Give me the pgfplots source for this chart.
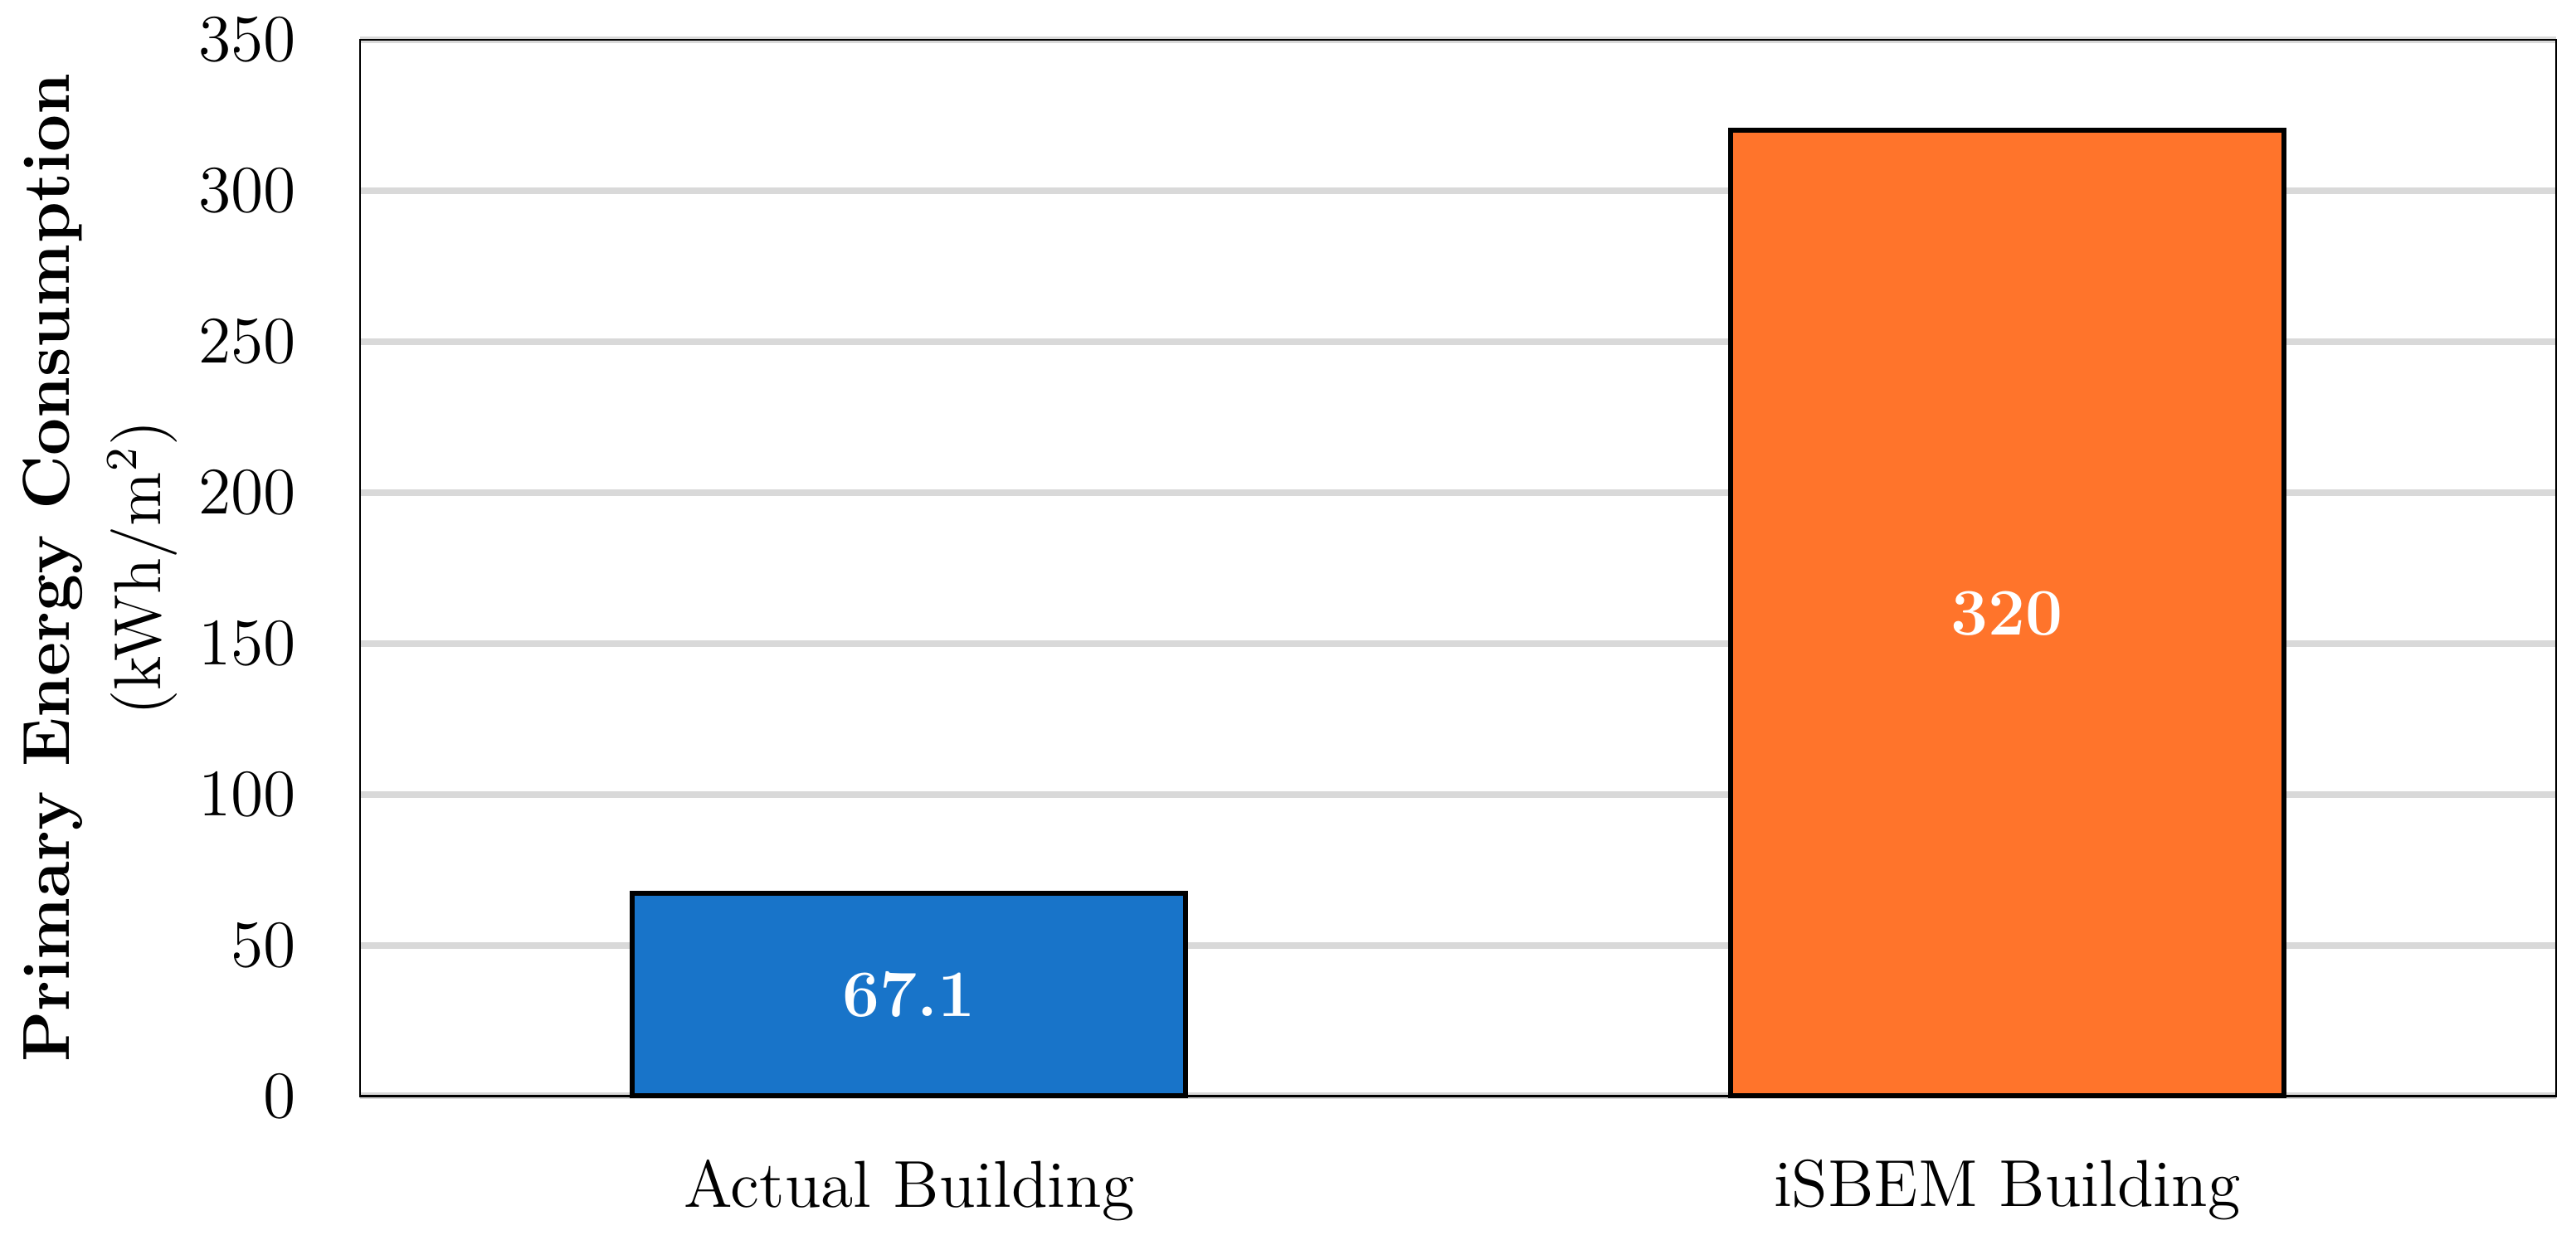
\documentclass[border=0pt]{standalone}
\usepackage{pgfplots}
\pgfplotsset{compat=1.18}

\definecolor{barblue}{HTML}{1874C9}
\definecolor{barorange}{HTML}{FF742B}
\definecolor{gridgray}{HTML}{D9D9D9}

\begin{document}
\begin{tikzpicture}
\begin{axis}[
    scale only axis,
    width=397pt, height=191pt,
    ymin=0, ymax=350,
    ytick={0,50,...,350},
    xmin=-0.5, xmax=1.5,
    xtick={0,1},
    xticklabels={Actual Building, iSBEM Building},
    major tick length=0pt,
    ymajorgrids,
    grid style={gridgray, line width=1.2pt},
    axis line style={black, line width=0.4pt},
    tick label style={font=\fontsize{12}{14}\selectfont},
    yticklabel style={xshift=-8pt},
    xticklabel style={yshift=-8pt},
    ylabel={\textbf{Primary Energy Consumption}\\(kWh/m\textsuperscript{2})},
    ylabel style={align=center, font=\fontsize{12}{16.5}\selectfont, yshift=-3pt},
    ybar, bar width=100pt,
    clip=false,
]
\addplot[ybar, fill=barblue, draw=black, line width=0.9pt, bar shift=0pt]
    coordinates {(0,67.1)};
\addplot[ybar, fill=barorange, draw=black, line width=0.9pt, bar shift=0pt]
    coordinates {(1,320)};
% value labels at mid-height of each bar
\addplot[draw=none, fill=none, bar shift=0pt, bar width=1pt, mark=none,
    nodes near coords, point meta=explicit symbolic,
    every node near coord/.style={anchor=center, text=white,
        font=\fontsize{12}{14}\selectfont\bfseries}]
    coordinates {(0,33.55)[67.1] (1,160)[320]};
\end{axis}
\path ([xshift=-65.1pt, yshift=-24.6pt]current axis.south west)
    rectangle ([xshift=3.6pt, yshift=6.9pt]current axis.north east);
\end{tikzpicture}
\end{document}
